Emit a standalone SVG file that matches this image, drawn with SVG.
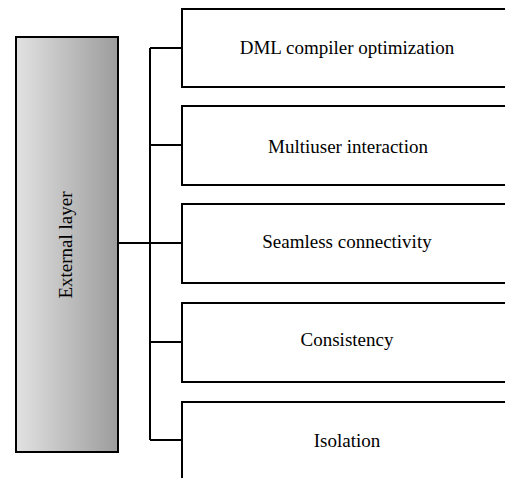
<svg xmlns="http://www.w3.org/2000/svg" width="505" height="478" viewBox="0 0 505 478">
  <style>
    .box { fill: #ffffff; stroke: #000000; stroke-width: 2; }
    .wire { fill: none; stroke: #000000; stroke-width: 2; }
    .label { font-family: "Liberation Serif", "Times New Roman", serif; font-size: 19px; fill: #000000; text-anchor: middle; }
  </style>
  <defs>
    <linearGradient id="layerFill" x1="0" y1="0" x2="1" y2="0">
      <stop offset="0" stop-color="#e2e2e2"/>
      <stop offset="1" stop-color="#9c9c9c"/>
    </linearGradient>
  </defs>
  <rect width="505" height="478" fill="#ffffff"/>

  <g id="connectors">
    <path class="wire" d="M118,243 H182"/>
    <path class="wire" d="M150,48 V440"/>
    <path class="wire" d="M150,48 H182"/>
    <path class="wire" d="M150,145 H182"/>
    <path class="wire" d="M150,342 H182"/>
    <path class="wire" d="M150,440 H182"/>
  </g>

  <g id="external-layer">
    <rect x="16" y="37" width="102" height="415" fill="url(#layerFill)" stroke="#000000" stroke-width="2"/>
    <text class="label" transform="translate(72,245) rotate(-90)">External layer</text>
  </g>

  <g id="dml-compiler">
    <rect class="box" x="182" y="9" width="330" height="78"/>
    <text class="label" x="347" y="54">DML compiler optimization</text>
  </g>

  <g id="multiuser">
    <rect class="box" x="182" y="106" width="330" height="79"/>
    <text class="label" x="348" y="153">Multiuser interaction</text>
  </g>

  <g id="seamless">
    <rect class="box" x="182" y="204" width="330" height="79"/>
    <text class="label" x="347" y="248">Seamless connectivity</text>
  </g>

  <g id="consistency">
    <rect class="box" x="182" y="303" width="330" height="79"/>
    <text class="label" x="347" y="346">Consistency</text>
  </g>

  <g id="isolation">
    <rect class="box" x="182" y="402" width="330" height="90"/>
    <text class="label" x="347" y="447">Isolation</text>
  </g>
</svg>
